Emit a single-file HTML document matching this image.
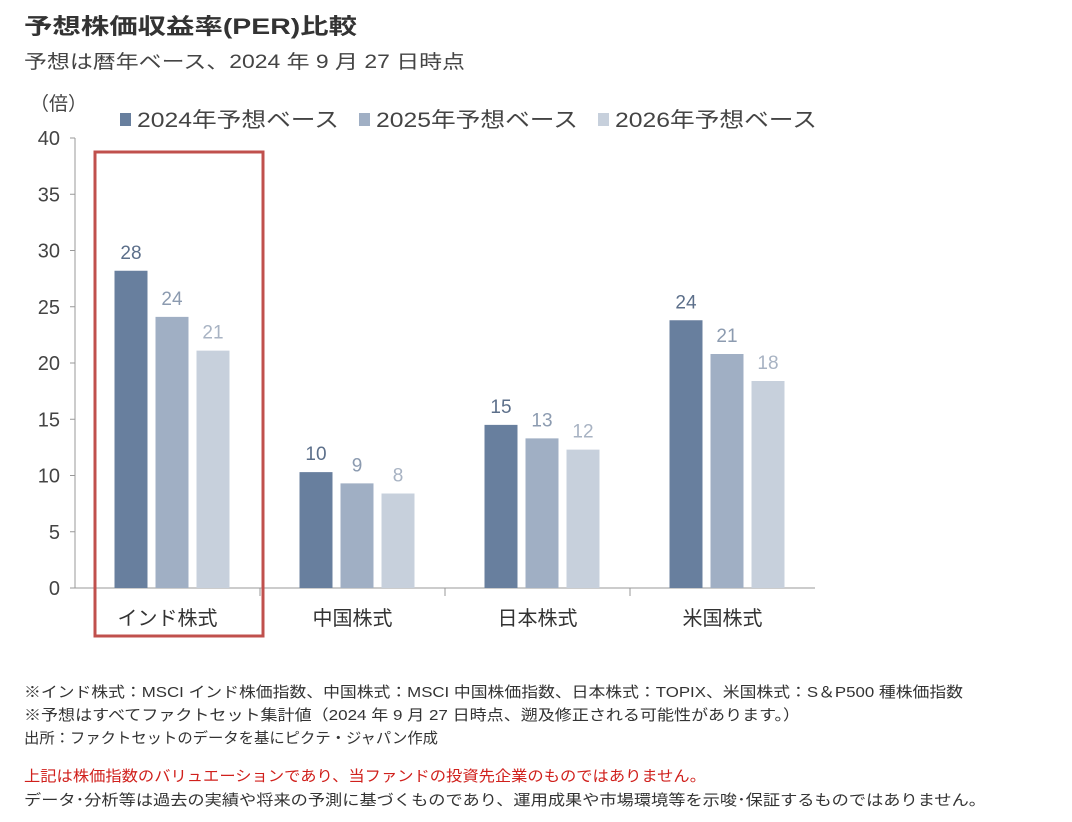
<!DOCTYPE html>
<html><head><meta charset="utf-8">
<style>
body{margin:0;background:#fff;width:1072px;height:817px;overflow:hidden;font-family:"Liberation Sans","Noto Sans CJK JP",sans-serif;}
svg text{font-family:"Liberation Sans","Noto Sans CJK JP",sans-serif;}
</style></head><body>
<svg id="c" width="1072" height="817">
<text x="24" y="34" font-size="22" font-weight="bold" fill="#333" textLength="333" lengthAdjust="spacingAndGlyphs">予想株価収益率(PER)比較</text>
<text x="24" y="68" font-size="19" fill="#444" textLength="441" lengthAdjust="spacingAndGlyphs">予想は暦年ベース、2024 年 9 月 27 日時点</text>
<text x="30" y="110" font-size="19" fill="#444">（倍）</text>
<g id="legend"></g>
<g id="axes"></g><g id="bars"></g>
<rect x="95" y="152" width="168" height="484" fill="none" stroke="#c0504d" stroke-width="3"/>
<text x="24" y="697" font-size="15" fill="#333" textLength="939" lengthAdjust="spacingAndGlyphs">※インド株式：MSCI インド株価指数、中国株式：MSCI 中国株価指数、日本株式：TOPIX、米国株式：S＆P500 種株価指数</text>
<text x="24" y="720" font-size="15" fill="#333" textLength="776" lengthAdjust="spacingAndGlyphs">※予想はすべてファクトセット集計値（2024 年 9 月 27 日時点、遡及修正される可能性があります。）</text>
<text x="24" y="743" font-size="15" fill="#333" textLength="414" lengthAdjust="spacingAndGlyphs">出所：ファクトセットのデータを基にピクテ・ジャパン作成</text>
<text x="24" y="781" font-size="15" fill="#d0201c" textLength="682" lengthAdjust="spacingAndGlyphs">上記は株価指数のバリュエーションであり、当ファンドの投資先企業のものではありません。</text>
<text x="24" y="805" font-size="15" fill="#333" textLength="962" lengthAdjust="spacingAndGlyphs">データ･分析等は過去の実績や将来の予測に基づくものであり、運用成果や市場環境等を示唆･保証するものではありません。</text>
</svg>
<script>
const categories=["インド株式","中国株式","日本株式","米国株式"];
const s2024=[28.2,10.3,14.5,23.8];
const s2025=[24.1,9.3,13.3,20.8];
const s2026=[21.1,8.4,12.3,18.4];
const valueLabels=[["28","24","21"],["10","9","8"],["15","13","12"],["24","21","18"]];
const seriesNames=["2024年予想ベース","2025年予想ベース","2026年予想ベース"];
const yTicks=[0,5,10,15,20,25,30,35,40];
const NS="http://www.w3.org/2000/svg";
const colors=["#687f9e","#a0afc4","#c7d0dc"];
const lblColors=["#5c6f8a","#8c9bb0","#a8b3c3"];
const x0=75,x1=815,yB=588,yT=138;
const y=v=>yB-(v-0)/40*(yB-yT);
const catW=(x1-x0)/categories.length;
function el(t,a,p){const e=document.createElementNS(NS,t);for(const k in a)e.setAttribute(k,a[k]);p.appendChild(e);return e;}
const axes=document.getElementById('axes'),bars=document.getElementById('bars'),leg=document.getElementById('legend');
const ya=el('line',{x1:x0,y1:yT,x2:x0,y2:yB,stroke:'#999'},axes);

const xa=el('line',{x1:x0,y1:yB,x2:x1,y2:yB,stroke:'#999'},axes);

yTicks.forEach(v=>{
 el('line',{x1:x0-5,y1:y(v),x2:x0,y2:y(v),stroke:'#999'},axes);
 const t=el('text',{x:x0-15,y:y(v)+7,'font-size':20,fill:'#444','text-anchor':'end'},axes);t.textContent=v;
 
});
for(let i=1;i<categories.length;i++)el('line',{x1:x0+catW*i,y1:yB,x2:x0+catW*i,y2:yB+8,stroke:'#999'},axes);
const series=[s2024,s2025,s2026];
categories.forEach((c,i)=>{
 const cx=x0+catW*i+catW/2;
 const t=el('text',{x:cx,y:625,'font-size':20,fill:'#333','text-anchor':'middle'},axes);t.textContent=c;
 
 series.forEach((s,j)=>{
  const bx=cx-53+j*41;
  const r=el('rect',{x:bx,y:y(s[i]),width:33,height:yB-y(s[i]),fill:colors[j]},bars);
  
  const l=el('text',{x:bx+16.5,y:y(s[i])-12,'font-size':19,fill:lblColors[j],'text-anchor':'middle'},bars);
  l.textContent=valueLabels[i][j];
  
 });
});
const lx=[120,359,598];
seriesNames.forEach((n,j)=>{
 const r=el('rect',{x:lx[j],y:113,width:11,height:13,fill:colors[j]},leg);
 
 const t=el('text',{x:lx[j]+17,y:127,'font-size':21,fill:'#444',textLength:202,lengthAdjust:'spacingAndGlyphs'},leg);t.textContent=n;
 
});
</script>
</body></html>
